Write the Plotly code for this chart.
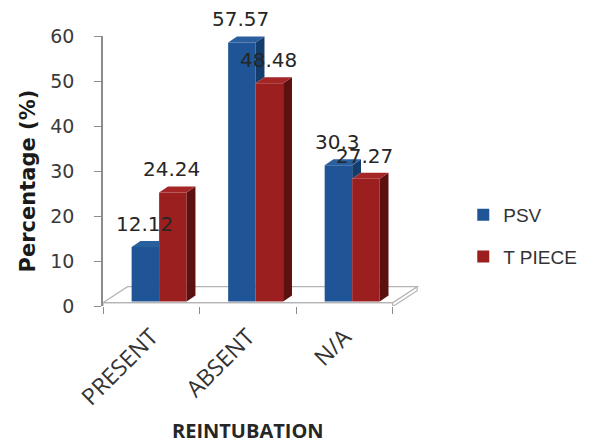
import plotly.graph_objects as go

# Reintubation outcome by weaning method (percent of patients)
categories = ["PRESENT", "ABSENT", "N/A"]
psv = [12.12, 57.57, 30.3]
t_piece = [24.24, 48.48, 27.27]
y_ticks = [0, 10, 20, 30, 40, 50, 60]

# colours of the three visible faces of each prism
BLUE = dict(front="#1F5596", side="#143D6E", top="#2A5F9E")
RED = dict(front="#9B1F1F", side="#5C1010", top="#A52626")

# pseudo-3D geometry in axis units
PX_X, PX_Y = 98.3, 4.5           # pixels per x unit / per y unit
W = 28 / PX_X                    # bar width
SHIFT = 8 / PX_X                 # pair offset into depth (x)
BASE = 1.0                       # bar base raised by depth (y)
DX, DY = 9 / PX_X, 6 / PX_Y      # bar depth projection
FDX, FDY = 25 / PX_X, 16 / PX_Y  # floor depth projection
SLAB = 0.75                      # floor slab thickness
X_MAX = 2.5 + 32 / PX_X

xi = list(range(len(categories)))
blue_x = [c + SHIFT - W / 2 for c in xi]
red_x = [c + SHIFT + W / 2 for c in xi]

fig = go.Figure()
fig.add_trace(go.Bar(x=blue_x, y=psv, base=[BASE] * 3, width=W, name="PSV",
                     marker=dict(color=BLUE["front"], line=dict(width=0)),
                     legendgroup="a"))
fig.add_trace(go.Bar(x=red_x, y=t_piece, base=[BASE] * 3, width=W, name="T PIECE",
                     marker=dict(color=RED["front"], line=dict(width=0)),
                     legendgroup="b"))
# tick marks at category boundaries on an overlaid axis
fig.add_trace(go.Scatter(x=[-0.5, 2.5], y=[0, 0], xaxis="x2", mode="markers",
                         marker=dict(opacity=0), showlegend=False, hoverinfo="skip"))


def poly(pts, color, line="rgba(0,0,0,0)", lw=0, layer="above"):
    d = "M" + " L".join(f"{x},{y}" for x, y in pts) + " Z"
    return dict(type="path", path=d, xref="x", yref="y", fillcolor=color,
                line=dict(color=line, width=lw), layer=layer)


shapes = []
# floor: front slab face, right slab face and top surface
gray = "#B4B4B4"
shapes.append(poly([(-0.5, -0.15), (2.5, -0.15), (2.5, SLAB), (-0.5, SLAB)],
                   "white", gray, 1.2, "below"))
shapes.append(poly([(2.5, -0.15), (2.5 + FDX, -0.15 + FDY),
                    (2.5 + FDX, SLAB + FDY), (2.5, SLAB)], "white", gray, 1.2, "below"))
shapes.append(poly([(-0.5, SLAB), (2.5, SLAB), (2.5 + FDX, SLAB + FDY),
                    (-0.5 + FDX, SLAB + FDY)], "white", gray, 1.2, "below"))

for i in xi:
    vb, vr = psv[i], t_piece[i]
    L = blue_x[i] - W / 2
    R = blue_x[i] + W / 2
    R2 = red_x[i] + W / 2
    tb, tr = BASE + vb, BASE + vr
    # blue prism: only the parts not hidden by the red prism in front
    if vb > vr:
        shapes.append(poly([(R, tr), (R + DX, tr + DY), (R + DX, tb + DY), (R, tb)],
                           BLUE["side"]))
        shapes.append(poly([(L, tb), (R, tb), (R + DX, tb + DY), (L + DX, tb + DY)],
                           BLUE["top"]))
    else:
        shapes.append(poly([(L, tb), (R, tb), (R, tb + DY), (L + DX, tb + DY)],
                           BLUE["top"]))
    # red prism
    shapes.append(poly([(R2, BASE), (R2 + DX, BASE + DY), (R2 + DX, tr + DY), (R2, tr)],
                       RED["side"]))
    shapes.append(poly([(R, tr), (R2, tr), (R2 + DX, tr + DY), (R + DX, tr + DY)],
                       RED["top"]))

annotations = []
label_font = dict(family="DejaVu Sans", size=20, color="#262626")
for xs, vals in ((blue_x, psv), (red_x, t_piece)):
    for x, v in zip(xs, vals):
        annotations.append(dict(x=x, y=BASE + v, xref="x", yref="y", text=f"{v:g}",
                                showarrow=False, yshift=23, xshift=-1,
                                font=label_font))

annotations.append(dict(x=1.0, y=(306 - 430) / 270, xref="x", yref="paper",
                        xanchor="center", yanchor="middle",
                        text="<b>REINTUBATION</b>", showarrow=False,
                        font=dict(family="Open Sans", size=20, color="#262626")))
annotations.append(dict(x=(27 - 103) / 327, y=(306 - 181) / 270, xref="paper",
                        yref="paper", xanchor="center", yanchor="middle",
                        text="<b>Percentage (%)</b>", textangle=-90,
                        showarrow=False,
                        font=dict(family="DejaVu Sans", size=21, color="#1a1a1a")))

fig.update_layout(
    width=594, height=444,
    margin=dict(l=103, r=164, t=36, b=138),
    paper_bgcolor="white", plot_bgcolor="white",
    barmode="overlay", showlegend=True,
    shapes=shapes, annotations=annotations,
    xaxis=dict(range=[-0.5, X_MAX], tickvals=xi, ticktext=categories,
               tickangle=-45, ticks="", showline=False, showgrid=False,
               zeroline=False, ticklabelstandoff=12,
               tickfont=dict(family="Open Sans", size=23, color="#333333")),
    xaxis2=dict(range=[-0.5, X_MAX], overlaying="x", anchor="y", side="bottom",
                tickvals=[-0.5, 0.5, 1.5, 2.5], ticks="outside", ticklen=7,
                tickcolor="#8C8C8C", tickwidth=1.3, showticklabels=False,
                showline=False, showgrid=False, zeroline=False),
    yaxis=dict(range=[0, 60], tickvals=y_ticks, ticks="outside", ticklen=7,
               tickcolor="#8C8C8C", tickwidth=1.3, showline=True,
               linecolor="#8C8C8C", linewidth=1.5, showgrid=False, zeroline=False,
               ticklabelstandoff=16,
               tickfont=dict(family="DejaVu Sans", size=19, color="#3A3A3A")),
    legend=dict(x=(470 - 103) / 327, y=(306 - 196) / 270, xanchor="left",
                yanchor="top", tracegroupgap=14, bgcolor="rgba(0,0,0,0)",
                font=dict(family="Liberation Sans", size=19, color="#333333")),
)

fig.write_html("out.html")
